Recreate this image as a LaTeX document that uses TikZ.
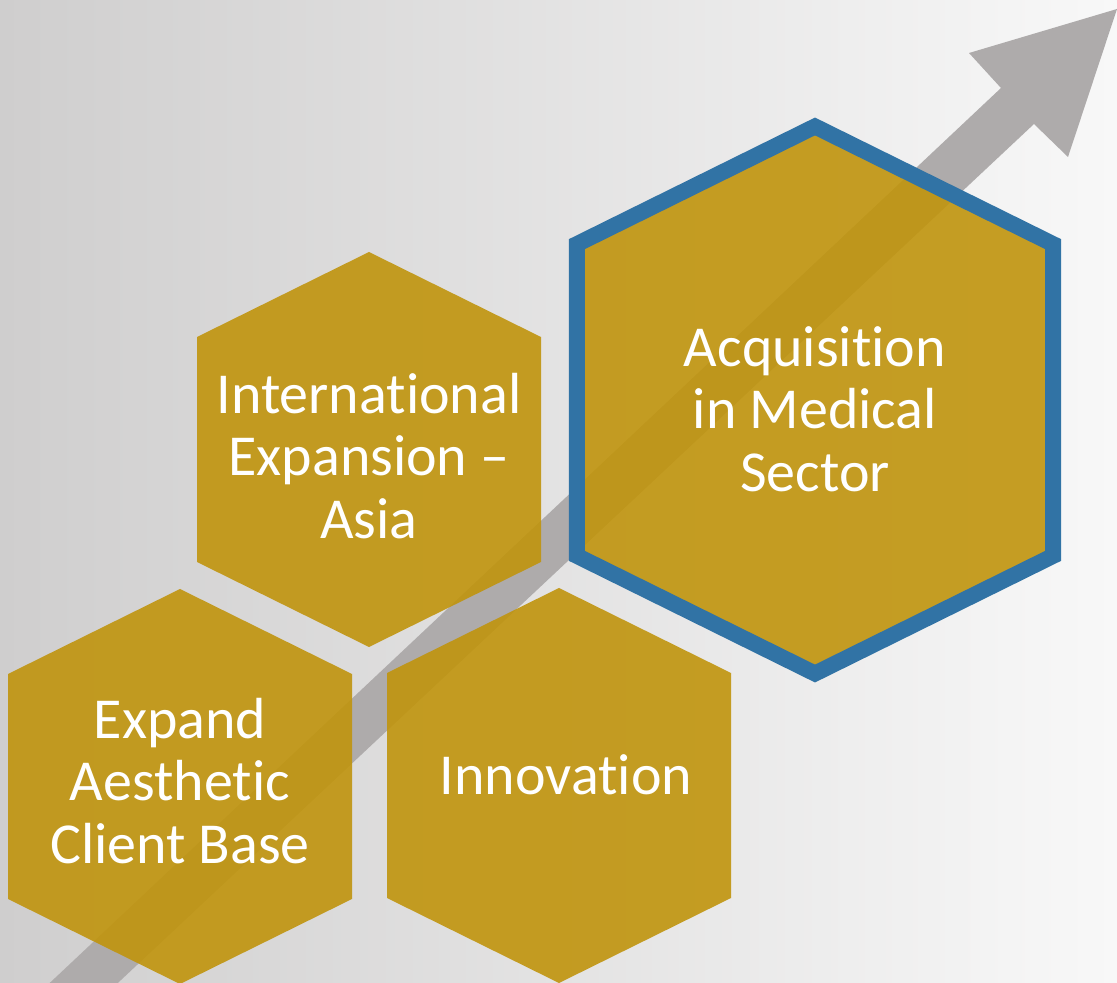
\documentclass[tikz,border=0pt]{standalone}
\usepackage{fontspec}
\setmainfont{Carlito}[Ligatures={NoCommon}]
\usetikzlibrary{calc,positioning}
\definecolor{hexgold}{RGB}{192,148,13}
\definecolor{hexblue}{RGB}{49,115,165}
\definecolor{arrgray}{RGB}{174,171,171}
\tikzstyle{hexfill}=[fill=hexgold,fill opacity=0.9]
\tikzset{
  hexa/.pic={
    \path[pic actions] (0,-197.5) -- (172,-112.5) -- (172,112.5)
      -- (0,197.5) -- (-172,112.5) -- (-172,-112.5) -- cycle;
  }
}

\begin{document}
\begin{tikzpicture}[x=0.02cm,y=-0.02cm,
    lbl/.style={text=white,align=center,font=\fontsize{33}{35.5}\selectfont}
    ]

    % background
    \useasboundingbox (0,0) rectangle (1117,983);
    \shade[left color={rgb,255:red,207;green,206;blue,206},
      right color={rgb,255:red,248;green,248;blue,248}] (0,0) rectangle (1117,983);
    \clip (0,0) rectangle (1117,983);

    % growth arrow
    \fill[arrgray] (21,1010) -- (1001,88) -- (969,53) -- (1117,9)
      -- (1068,157) -- (1034,124) -- (89,1010) -- cycle;

    % small hexagons
    \foreach \n/\x/\y in {asia/369/449.5,base/180/786.5,innov/559/785.5} {
      \pic[hexfill] (\n) at (\x,\y) {hexa};
    }
    % big hexagon with frame
    \pic[hexfill,draw=hexblue,line width=0.32cm,draw opacity=1,scale=1.385]
      (medic) at (815,400) {hexa};

    % hexagon labels
    \node[lbl] (asiatxt) at (369,456) {International\\Expansion –\\Asia};
    \node[lbl] (basetxt) at (180,781) {Expand\\Aesthetic\\Client Base};
    \node[lbl] (innovtxt) at (566,775) {Innovation};
    \node[lbl] (medictxt) at (815,409) {Acquisition\\in Medical\\Sector};

  \end{tikzpicture}
\end{document}
